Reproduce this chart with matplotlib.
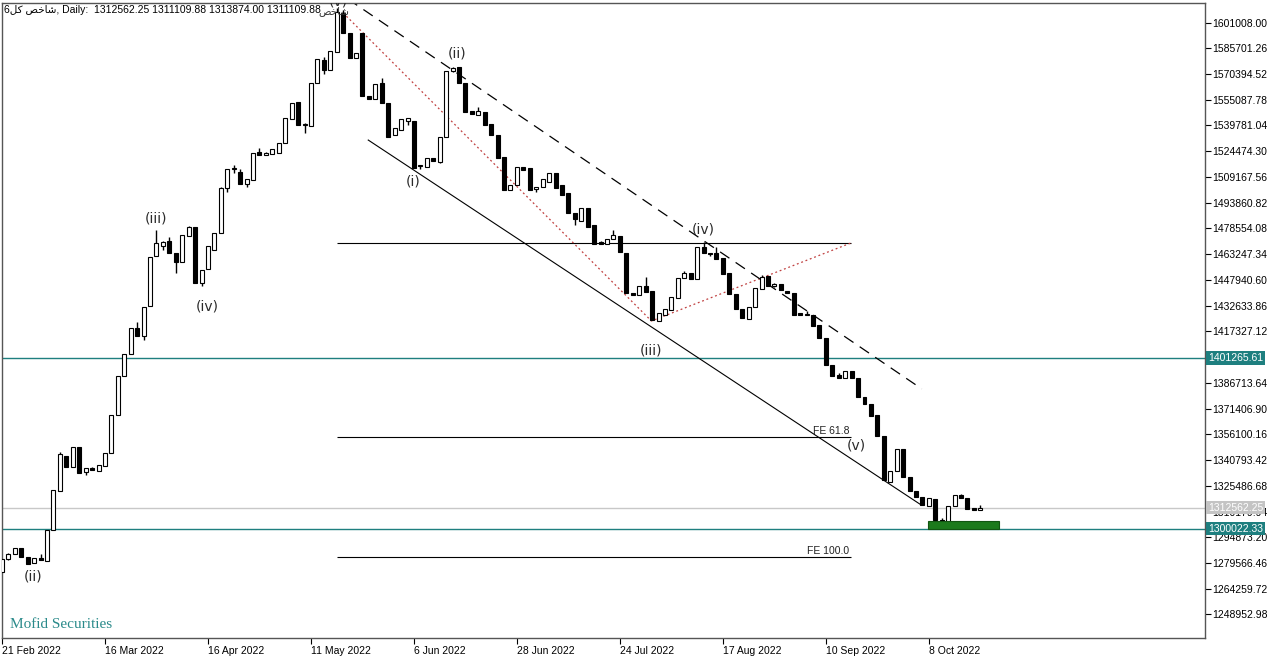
import matplotlib
matplotlib.use('Agg')
import matplotlib.pyplot as plt
from matplotlib.patches import Rectangle
import numpy as np

plt.rcParams['font.family'] = ['Liberation Sans', 'DejaVu Sans']

# daily candles of the index (one per trading day, 21 Feb .. mid Oct 2022)
opens = [1274200, 1282000, 1284900, 1288500, 1283100, 1279600, 1282500, 1280800, 1299200, 1322400,
         1343200, 1336700, 1348600, 1333700, 1336100, 1334300, 1337300, 1345000, 1367600, 1390800,
         1403900, 1419300, 1414600, 1432400, 1462100, 1468100, 1471100, 1463900, 1458600, 1474000,
         1479400, 1446100, 1454400, 1465700, 1475800, 1502600, 1513900, 1512100, 1505000, 1507300,
         1524000, 1522200, 1522800, 1523400, 1529300, 1543600, 1553700, 1540100, 1539500, 1565000,
         1578700, 1572800, 1583500, 1606700, 1594800, 1579900, 1594800, 1557300, 1555500, 1565000,
         1553100, 1534100, 1537100, 1542400, 1542400, 1515600, 1515100, 1520400, 1518000, 1532900,
         1572200, 1574500, 1565000, 1548400, 1546000, 1547800, 1540600, 1534100, 1521000, 1501400,
         1504400, 1515100, 1514500, 1502000, 1503200, 1506100, 1511500, 1504400, 1499600, 1487700,
         1483000, 1490700, 1480600, 1470500, 1469300, 1472300, 1474000, 1463900, 1440100, 1438900,
         1444300, 1441300, 1423500, 1427100, 1430000, 1437200, 1449100, 1452000, 1448500, 1467500,
         1463900, 1463900, 1461000, 1452000, 1439600, 1430600, 1424700, 1431800, 1442500, 1450200,
         1444300, 1445500, 1441300, 1440100, 1428200, 1427100, 1427100, 1421100, 1413400, 1397300,
         1391400, 1389600, 1393800, 1389600, 1378300, 1374100, 1367600, 1355100, 1327700, 1334300,
         1347400, 1330700, 1322400, 1318800, 1313500, 1317600, 1305100, 1304000, 1313500, 1320000,
         1318200, 1312300, 1311110]
highs = [1282000, 1285500, 1288500, 1288500, 1283100, 1282500, 1284900, 1299200, 1323000, 1345600,
         1343200, 1348600, 1348600, 1336100, 1336700, 1337900, 1345000, 1367600, 1390800, 1403900,
         1419300, 1422900, 1431800, 1461600, 1477600, 1471100, 1473400, 1463900, 1474600, 1480000,
         1479400, 1453800, 1468100, 1475800, 1503200, 1513900, 1516300, 1513900, 1507900, 1523400,
         1526400, 1524000, 1525800, 1529300, 1544200, 1553100, 1553700, 1541200, 1565000, 1579300,
         1580500, 1584100, 1609600, 1608400, 1594800, 1582900, 1594800, 1557300, 1564400, 1568000,
         1553100, 1538300, 1543600, 1544200, 1542400, 1516300, 1520400, 1520400, 1532900, 1572200,
         1574500, 1574500, 1565000, 1548400, 1550800, 1547800, 1540600, 1534100, 1521000, 1504400,
         1515100, 1515100, 1514500, 1503200, 1507900, 1511500, 1511500, 1504400, 1499600, 1487700,
         1490700, 1490700, 1480600, 1471100, 1472300, 1477600, 1474000, 1463900, 1440100, 1444300,
         1449700, 1441300, 1428200, 1430600, 1437800, 1449100, 1453200, 1452000, 1467500, 1470500,
         1463900, 1467500, 1461000, 1452000, 1439600, 1430600, 1431800, 1443100, 1450800, 1450200,
         1446100, 1445500, 1441300, 1440100, 1428200, 1429400, 1427100, 1421100, 1413400, 1397300,
         1392600, 1393800, 1393800, 1389600, 1378300, 1374100, 1367600, 1355100, 1334300, 1347400,
         1347400, 1330700, 1322400, 1318800, 1318200, 1317600, 1306300, 1313500, 1320000, 1320600,
         1318200, 1312300, 1313874]
lows = [1274200, 1281400, 1284900, 1283100, 1279000, 1279600, 1281400, 1280800, 1299200, 1322400,
        1336700, 1336700, 1333100, 1331900, 1334900, 1334300, 1337300, 1345000, 1367600, 1390800,
        1403900, 1414600, 1412200, 1432400, 1462100, 1465700, 1463900, 1452000, 1458600, 1474000,
        1446100, 1444300, 1454400, 1465700, 1475800, 1500200, 1511500, 1505000, 1503200, 1507300,
        1522200, 1522200, 1522800, 1523400, 1529300, 1543600, 1540100, 1535300, 1539500, 1565000,
        1570400, 1572800, 1583500, 1594800, 1579900, 1579900, 1557300, 1555500, 1555500, 1553100,
        1532900, 1534100, 1537100, 1540100, 1514500, 1513900, 1515100, 1518600, 1517500, 1532900,
        1571600, 1565000, 1547800, 1546600, 1546000, 1540100, 1534100, 1520400, 1501400, 1501400,
        1504400, 1513300, 1501400, 1500200, 1503200, 1506100, 1502600, 1498400, 1487700, 1480600,
        1483000, 1479400, 1469300, 1469300, 1469300, 1472300, 1464500, 1440100, 1438900, 1438900,
        1440700, 1424100, 1423500, 1427100, 1430000, 1437200, 1449100, 1448500, 1448500, 1463900,
        1462100, 1460400, 1451400, 1439600, 1430600, 1425300, 1424700, 1431800, 1442500, 1444300,
        1443700, 1441900, 1440100, 1427100, 1427100, 1427100, 1420500, 1413400, 1397300, 1390800,
        1389600, 1389600, 1389600, 1378300, 1374100, 1367000, 1355100, 1328900, 1327700, 1334300,
        1330700, 1322400, 1318800, 1314100, 1313500, 1305100, 1302800, 1304000, 1313500, 1318200,
        1311700, 1311100, 1311110]
closes = [1282000, 1284900, 1288500, 1283100, 1279000, 1282500, 1281400, 1299200, 1323000, 1344400,
          1336700, 1348600, 1333100, 1336100, 1334900, 1337900, 1345000, 1367600, 1390800, 1403900,
          1419300, 1414600, 1431800, 1461600, 1469900, 1470500, 1463900, 1458600, 1474600, 1479400,
          1446100, 1453800, 1468100, 1475800, 1502600, 1513900, 1514500, 1505000, 1507900, 1523400,
          1522200, 1523400, 1525800, 1529300, 1544200, 1553100, 1540100, 1540600, 1565000, 1579300,
          1572800, 1584100, 1607300, 1594800, 1579900, 1582900, 1557300, 1555500, 1564400, 1553100,
          1532900, 1538300, 1543600, 1544200, 1514500, 1516300, 1520400, 1518600, 1532900, 1572200,
          1574000, 1565000, 1547800, 1546600, 1548400, 1540100, 1534100, 1520400, 1501400, 1504400,
          1515100, 1513300, 1501400, 1503200, 1507900, 1511500, 1502600, 1498400, 1487700, 1484200,
          1490700, 1479400, 1469300, 1469300, 1472300, 1474600, 1464500, 1440100, 1438900, 1444300,
          1440700, 1424100, 1428200, 1430600, 1437800, 1449100, 1452000, 1448500, 1467500, 1463900,
          1463300, 1460400, 1451400, 1439600, 1430600, 1425300, 1431800, 1443100, 1449700, 1444300,
          1445500, 1441900, 1440100, 1427100, 1427100, 1427600, 1420500, 1413400, 1397300, 1390800,
          1389600, 1393800, 1389600, 1378300, 1374100, 1367000, 1355100, 1328900, 1334300, 1347400,
          1330700, 1322400, 1318800, 1314100, 1318200, 1305100, 1304600, 1313500, 1320000, 1318200,
          1311700, 1311100, 1312562]

date_ticks = [0, 16, 32, 48, 64, 80, 96, 112, 128, 144]
date_labels = ['21 Feb 2022', '16 Mar 2022', '16 Apr 2022', '11 May 2022', '6 Jun 2022',
               '28 Jun 2022', '24 Jul 2022', '17 Aug 2022', '10 Sep 2022', '8 Oct 2022']
price_ticks = [1601008.00, 1585701.26, 1570394.52, 1555087.78, 1539781.04, 1524474.30,
               1509167.56, 1493860.82, 1478554.08, 1463247.34, 1447940.60, 1432633.86,
               1417327.12, 1386713.64, 1371406.90, 1356100.16, 1340793.42, 1325486.68,
               1310179.94, 1294873.20, 1279566.46, 1264259.72, 1248952.98]

resist_level = 1401265.61
support_level = 1300022.33
last_price = 1312562.25

# fibonacci expansion: levels, names, start/end bar
fe_levels = [1469900, 1354500, 1283100]
fe_names = ['', 'FE 61.8', 'FE 100.0']
fe_bars = [52.1, 131.9]
fe_path_bars = [53.0, 100.9, 131.9]
fe_path_prices = [1606700, 1423500, 1469900]

# channel lines (bar, price anchors)
low_line_bars = [56.9, 142.8]
low_line_prices = [1531100, 1314100]
high_line_bars = [52.0, 142.9]
high_line_prices = [1619500, 1383100]

wave_text = ['(ii)', '(iii)', '(iv)', '(v)', '(i)', '(ii)', '(iii)', '(iv)', '(v)']
wave_bars = [4.9, 24.0, 31.9, 52.3, 63.9, 70.7, 100.9, 108.9, 132.8]
wave_prices = [1271800, 1484700, 1432400, 1613600, 1506700, 1582300, 1406200, 1478200, 1349700]

zone_bars = [143.9, 154.9]
zone_prices = [1299800, 1304400]

header = ('6\uFEDE\uFB90 \uFEBA\uFEA7\uFE8E\uFEB7, Daily:  1312562.25 1311109.88 '
          '1313874.00 1311109.88')

teal = '#1e7f7f'

fig = plt.figure(figsize=(12.8, 6.59), dpi=100)
ax = fig.add_axes([2 / 1280, 21 / 659, 1203 / 1280, 635 / 659])

x = np.arange(len(opens))
o = np.array(opens, dtype=float)
c = np.array(closes, dtype=float)
up = c >= o

# levels
ax.axhline(resist_level, color=teal, lw=1, zorder=1)
ax.axhline(support_level, color=teal, lw=1, zorder=1)
ax.axhline(last_price, color='#c8c8c8', lw=1, zorder=1)

ax.hlines(fe_levels, fe_bars[0], fe_bars[1], color='black', lw=0.8, zorder=2)
for lvl, name in zip(fe_levels, fe_names):
    if name:
        ax.text(fe_bars[1] - 0.3, lvl + 700, name, ha='right', va='bottom',
                fontsize=7.5, color='#222222')

ax.plot(fe_path_bars, fe_path_prices, color='#c04040', lw=0.9, ls=(0, (1.5, 2.2)), zorder=2)
ax.plot(low_line_bars, low_line_prices, color='black', lw=0.8, zorder=2)
ax.plot(high_line_bars, high_line_prices, color='black', lw=0.9, ls=(0, (9, 6)), zorder=2)

# candles
ax.vlines(x, lows, highs, color='black', lw=1, zorder=3)
ax.bar(x, np.maximum(np.abs(c - o), 450), bottom=np.minimum(o, c), width=0.62,
       color=np.where(up, 'white', 'black'), edgecolor='black', linewidth=0.8, zorder=4)

ax.add_patch(Rectangle((zone_bars[0], zone_prices[0]), zone_bars[1] - zone_bars[0],
                       zone_prices[1] - zone_prices[0], facecolor='#1c7a1c',
                       edgecolor='#125512', lw=0.8, zorder=5))

for t, bx, py in zip(wave_text, wave_bars, wave_prices):
    ax.text(bx, py, t, ha='center', va='center', fontsize=10, color='#2a2a2a',
            family='DejaVu Sans', clip_on=True, zorder=6)

ax.text(51.6, 1607600, '\uFEBA\uFEA7\uFE8E\uFEB7', ha='center', va='center', fontsize=7.5,
        family=['DejaVu Sans'], color='#333333', zorder=6)

ax.text(0.002, 0.997, header, transform=ax.transAxes, ha='left', va='top', fontsize=7.5,
        color='black', zorder=7)

ax.set_xlim(0.08, 186.9)
ax.set_ylim(1234970, 1612605)

ax.yaxis.tick_right()
ax.set_yticks(price_ticks)
ax.set_yticklabels([f'{v:.2f}' for v in price_ticks], fontsize=7.5)
ax.tick_params(axis='y', length=4, width=0.8, pad=1.5, direction='out', colors='black')
ax.set_xticks(date_ticks)
ax.set_xticklabels(date_labels, fontsize=7.5, ha='left')
ax.tick_params(axis='x', length=4, width=0.8, pad=2, direction='out')

for sp in ax.spines.values():
    sp.set_color('#555555')
    sp.set_linewidth(1)

# price boxes on the right scale
for val, bg in [(resist_level, teal), (support_level, teal), (last_price, '#c4c4c4')]:
    ax.text(1.0025, val, f'{val:.2f}', transform=ax.get_yaxis_transform(), ha='left',
            va='center', fontsize=7.5, color='white', clip_on=False, zorder=10,
            bbox=dict(boxstyle='square,pad=0.18', fc=bg, ec='none'))

fig.text(10 / 1280, 1 - 624 / 659, 'Mofid Securities', ha='left', va='center',
         fontsize=11, family='Liberation Serif', color='#2a8a8a')

fig.savefig('out.png', dpi=100)
